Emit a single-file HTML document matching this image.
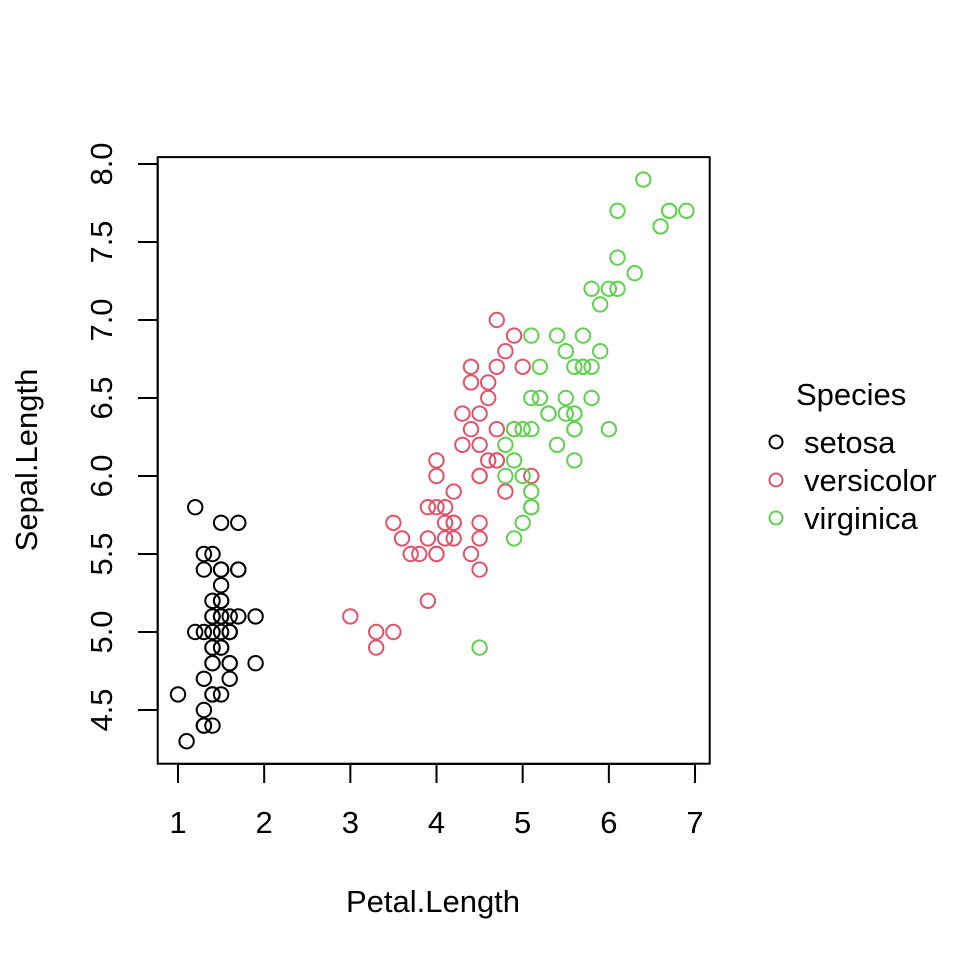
<!DOCTYPE html>
<html><head><meta charset="utf-8"><style>
html,body{margin:0;padding:0;background:#fff}
svg{display:block}
text{font-family:"Liberation Sans",Arial,sans-serif;font-size:31px;fill:#000}
</style></head><body>
<svg id="s" width="960" height="960" xmlns="http://www.w3.org/2000/svg">
<rect x="157.7" y="157.1" width="552" height="606.6" fill="none" stroke="#000" stroke-width="2"/>
<g id="ax" stroke="#000" stroke-width="2" fill="none"></g>
<g id="pts" fill="none" stroke-width="2"></g>
<g id="lab"></g>
<text x="433" y="912" text-anchor="middle">Petal.Length</text>
<text transform="translate(37,460) rotate(-90)" text-anchor="middle">Sepal.Length</text>
<text x="796" y="405">Species</text>
<circle cx="776" cy="442" r="6.5" fill="none" stroke="#000" stroke-width="2"/>
<circle cx="776" cy="480" r="6.5" fill="none" stroke="#DF536B" stroke-width="2"/>
<circle cx="776" cy="518" r="6.5" fill="none" stroke="#61D04F" stroke-width="2"/>
<text x="804" y="453">setosa</text>
<text x="804" y="491">versicolor</text>
<text x="804" y="529">virginica</text>
</svg>
<script>
var X=function(v){return 178+(v-1)*86.17},Y=function(v){return 164+(8-v)*156};
var sl=[5.1,4.9,4.7,4.6,5.0,5.4,4.6,5.0,4.4,4.9,5.4,4.8,4.8,4.3,5.8,5.7,5.4,5.1,5.7,5.1,5.4,5.1,4.6,5.1,4.8,5.0,5.0,5.2,5.2,4.7,4.8,5.4,5.2,5.5,4.9,5.0,5.5,4.9,4.4,5.1,5.0,4.5,4.4,5.0,5.1,4.8,5.1,4.6,5.3,5.0,
7.0,6.4,6.9,5.5,6.5,5.7,6.3,4.9,6.6,5.2,5.0,5.9,6.0,6.1,5.6,6.7,5.6,5.8,6.2,5.6,5.9,6.1,6.3,6.1,6.4,6.6,6.8,6.7,6.0,5.7,5.5,5.5,5.8,6.0,5.4,6.0,6.7,6.3,5.6,5.5,5.5,6.1,5.8,5.0,5.6,5.7,5.7,6.2,5.1,5.7,
6.3,5.8,7.1,6.3,6.5,7.6,4.9,7.3,6.7,7.2,6.5,6.4,6.8,5.7,5.8,6.4,6.5,7.7,7.7,6.0,6.9,5.6,7.7,6.3,6.7,7.2,6.2,6.1,6.4,7.2,7.4,7.9,6.4,6.3,6.1,7.7,6.3,6.4,6.0,6.9,6.7,6.9,5.8,6.8,6.7,6.7,6.3,6.5,6.2,5.9];
var pl=[1.4,1.4,1.3,1.5,1.4,1.7,1.4,1.5,1.4,1.5,1.5,1.6,1.4,1.1,1.2,1.5,1.3,1.4,1.7,1.5,1.7,1.5,1.0,1.7,1.9,1.6,1.6,1.5,1.4,1.6,1.6,1.5,1.5,1.4,1.5,1.2,1.3,1.4,1.3,1.5,1.3,1.3,1.3,1.6,1.9,1.4,1.6,1.4,1.5,1.4,
4.7,4.5,4.9,4.0,4.6,4.5,4.7,3.3,4.6,3.9,3.5,4.2,4.0,4.7,3.6,4.4,4.5,4.1,4.5,3.9,4.8,4.0,4.9,4.7,4.3,4.4,4.8,5.0,4.5,3.5,3.8,3.7,3.9,5.1,4.5,4.5,4.7,4.4,4.1,4.0,4.4,4.6,4.0,3.3,4.2,4.2,4.2,4.3,3.0,4.1,
6.0,5.1,5.9,5.6,5.8,6.6,4.5,6.3,5.8,6.1,5.1,5.3,5.5,5.0,5.1,5.3,5.5,6.7,6.9,5.0,5.7,4.9,6.7,4.9,5.7,6.0,4.8,4.9,5.6,5.8,6.1,6.4,5.6,5.1,5.6,6.1,5.6,5.5,4.8,5.4,5.6,5.1,5.1,5.9,5.7,5.2,5.0,5.2,5.4,5.1];
var cols=["#000","#DF536B","#61D04F"],NS="http://www.w3.org/2000/svg";
var g=document.getElementById("pts");
for(var i=0;i<150;i++){var c=document.createElementNS(NS,"circle");c.setAttribute("cx",X(pl[i]).toFixed(1));c.setAttribute("cy",Y(sl[i]).toFixed(1));c.setAttribute("r","7.2");c.setAttribute("stroke",cols[Math.floor(i/50)]);g.appendChild(c);}
var ax=document.getElementById("ax"),lab=document.getElementById("lab"),d="M"+X(1)+" 764H"+X(7);
for(var k=1;k<=7;k++){d+="M"+X(k)+" 764V783";var t=document.createElementNS(NS,"text");t.setAttribute("x",X(k));t.setAttribute("y",833);t.setAttribute("text-anchor","middle");t.textContent=k;lab.appendChild(t);}
d+="M157.7 "+Y(4.5)+"V"+Y(8);
for(var v=4.5;v<=8.01;v+=0.5){d+="M138 "+Y(v)+"H157.7";var t=document.createElementNS(NS,"text");t.setAttribute("transform","translate(112,"+Y(v)+") rotate(-90)");t.setAttribute("text-anchor","middle");t.textContent=v.toFixed(1);lab.appendChild(t);}
var p=document.createElementNS(NS,"path");p.setAttribute("d",d);ax.appendChild(p);
</script>
</body></html>
